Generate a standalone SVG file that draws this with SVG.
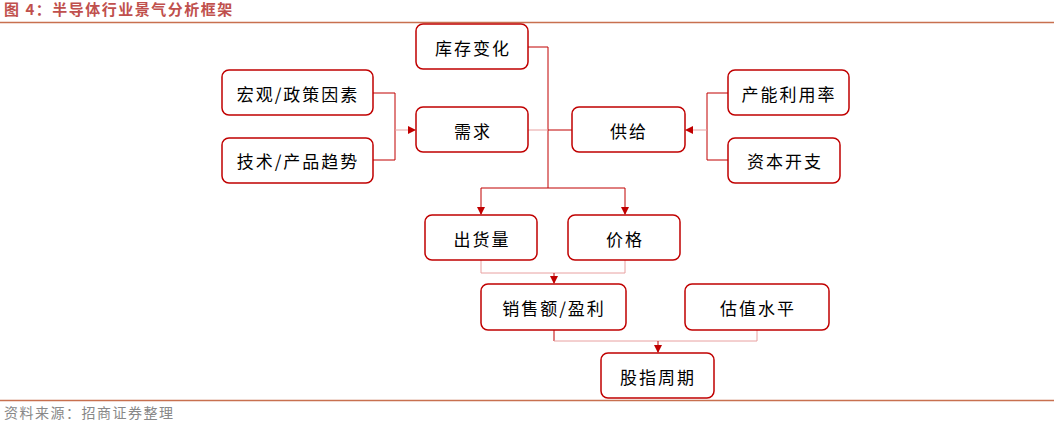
<svg xmlns="http://www.w3.org/2000/svg" width="1054" height="424" viewBox="0 0 1054 424">
<style>
.n{fill:#fff;stroke:#c00000;stroke-width:1.5}
.t{font-family:"Noto Sans CJK SC","Liberation Sans",sans-serif;font-size:17px;letter-spacing:2px;fill:#000;text-anchor:middle;dominant-baseline:central}
.c{fill:none;stroke:#c00000;stroke-width:1}
.l{fill:none;stroke:#e8a0a0;stroke-width:1}
</style>
<defs><marker id="a" markerWidth="8" markerHeight="8" refX="7" refY="4" orient="auto" markerUnits="userSpaceOnUse"><path d="M0,0L8,4L0,8z" fill="#c00000"/></marker></defs>
<rect width="1054" height="424" fill="#fff"/>
<text x="4" y="15" font-family="Noto Sans CJK SC,sans-serif" font-size="15" font-weight="bold" letter-spacing="1.5" fill="#c0504d">图 4：半导体行业景气分析框架</text>
<line x1="0" y1="22.5" x2="1054" y2="22.5" stroke="#c8704f" stroke-width="1.5"/>
<line x1="0" y1="400.5" x2="1054" y2="400.5" stroke="#c8704f" stroke-width="1.5"/>
<text x="4" y="418" font-family="Noto Sans CJK SC,sans-serif" font-size="14" letter-spacing="1.5" fill="#888">资料来源：招商证券整理</text>
<g id="connectors">
<path class="c" d="M528,47H548V188"/>
<path class="l" d="M528,130H548"/>
<path class="c" d="M572,130H548"/>
<path class="c" d="M548,188H481V214" marker-end="url(#a)"/>
<path class="c" d="M548,188H625V214" marker-end="url(#a)"/>
<path class="l" d="M481,260V273H625V260"/>
<path class="c" d="M554,273V283" marker-end="url(#a)"/>
<path class="c" d="M373,93H395V160H373"/>
<path class="l" d="M395,130H415" marker-end="url(#a)"/>
<path class="c" d="M728,93H707V160H728"/>
<path class="l" d="M707,130H686" marker-end="url(#a)"/>
<path class="c" d="M554,330V341"/>
<path class="l" d="M554,341H757V330"/>
<path class="c" d="M658,341V352" marker-end="url(#a)"/>
</g>
<g id="n1"><rect class="n" x="416" y="24" width="112" height="45" rx="7"/><text class="t" x="473" y="47">库存变化</text></g>
<g id="n2"><rect class="n" x="416" y="107" width="112" height="45" rx="7"/><text class="t" x="473" y="130">需求</text></g>
<g id="n3"><rect class="n" x="572" y="107" width="113" height="45" rx="7"/><text class="t" x="629" y="130">供给</text></g>
<g id="n4"><rect class="n" x="222" y="70" width="151" height="45" rx="7"/><text class="t" x="298" y="93">宏观/政策因素</text></g>
<g id="n5"><rect class="n" x="222" y="138" width="151" height="45" rx="7"/><text class="t" x="298" y="160">技术/产品趋势</text></g>
<g id="n6"><rect class="n" x="728" y="70" width="121" height="45" rx="7"/><text class="t" x="789" y="93">产能利用率</text></g>
<g id="n7"><rect class="n" x="728" y="138" width="112" height="45" rx="7"/><text class="t" x="785" y="160">资本开支</text></g>
<g id="n8"><rect class="n" x="425" y="215" width="112" height="45" rx="7"/><text class="t" x="482" y="238">出货量</text></g>
<g id="n9"><rect class="n" x="568" y="215" width="112" height="45" rx="7"/><text class="t" x="625" y="238">价格</text></g>
<g id="n10"><rect class="n" x="481" y="284" width="145" height="46" rx="7"/><text class="t" x="554" y="307">销售额/盈利</text></g>
<g id="n11"><rect class="n" x="685" y="284" width="144" height="46" rx="7"/><text class="t" x="758" y="307">估值水平</text></g>
<g id="n12"><rect class="n" x="601" y="353" width="113" height="45" rx="7"/><text class="t" x="658" y="376">股指周期</text></g>
</svg>
